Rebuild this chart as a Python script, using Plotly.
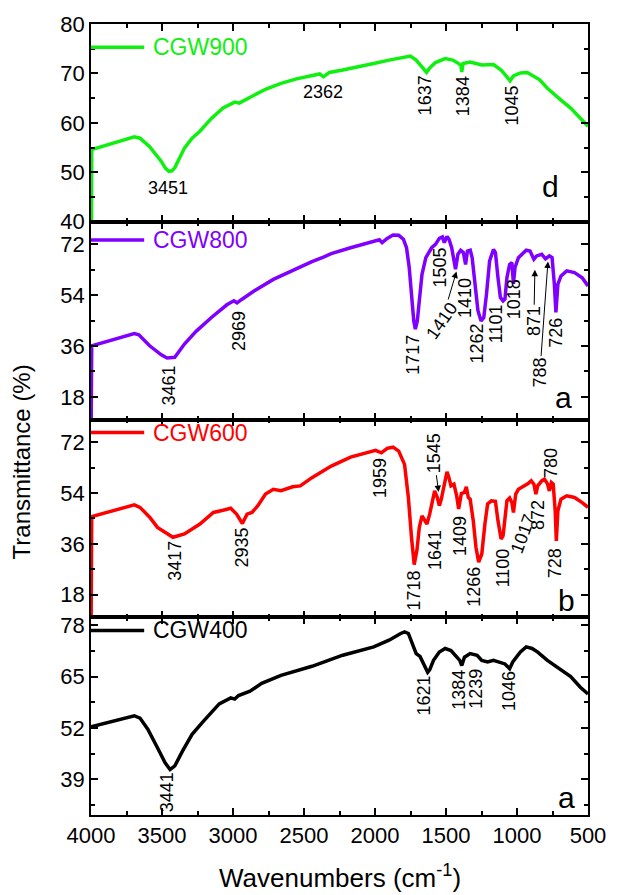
import plotly.graph_objects as go
from plotly.subplots import make_subplots

# ---------------- data ----------------
wn_900 = [4000, 3995, 3695, 3655, 3587, 3505, 3475, 3451, 3430, 3410, 3342, 3288, 3233, 3152, 3070, 2988, 2956, 2920,
          2852, 2771, 2662, 2553, 2444, 2390, 2363, 2322, 2227, 2118, 2009, 1901, 1792, 1751, 1710, 1669,
          1637, 1615, 1574, 1506, 1452, 1411, 1395, 1389, 1380, 1330, 1248, 1166, 1112, 1071, 1049, 1025,
          976, 927, 881, 840, 786, 731, 690, 622, 568, 500]
t_900 = [0, 54.6, 57.2, 56.9, 55.2, 52.2, 50.8, 50.2, 50.3, 50.9, 54.9, 56.9, 58.3, 60.9, 63.0, 64.2, 64.0, 64.6,
         65.6, 66.8, 68.0, 68.9, 69.5, 69.9, 69.3, 70.2, 70.7, 71.3, 72.0, 72.7, 73.4, 73.5, 72.7, 71.3,
         70.2, 71.1, 72.2, 73.0, 72.7, 72.0, 71.6, 70.3, 72.0, 72.3, 71.7, 71.8, 70.7, 69.3, 68.5, 69.5,
         70.1, 70.2, 69.5, 68.7, 67.0, 65.5, 64.6, 63.0, 61.3, 59.3]

wn_800 = [4000, 3995, 3695, 3663, 3587, 3505, 3464, 3410, 3342, 3260, 3152, 3043, 2994, 2972, 2939, 2852,
          2716, 2580, 2444, 2363, 2308, 2172, 2091, 1996, 1969, 1950, 1914, 1873, 1833, 1800, 1778, 1759,
          1743, 1727, 1716, 1702, 1688, 1669, 1642, 1601, 1574, 1547, 1525, 1512, 1493, 1479, 1460, 1444,
          1433, 1416, 1397, 1378, 1362, 1349, 1329, 1316, 1297, 1275, 1253, 1234, 1215, 1193, 1166, 1152,
          1134, 1117, 1098, 1085, 1071, 1052, 1036, 1025, 1014, 990, 935, 908, 881, 862, 826, 799, 772,
          753, 737, 726, 712, 690, 650, 595, 541, 500]
t_800 = [0, 36.1, 40.4, 40.0, 36.1, 32.9, 31.8, 32.0, 36.7, 41.2, 46.1, 50.6, 52.0, 51.3, 52.5, 55.5,
         59.6, 62.8, 65.9, 67.5, 68.7, 70.8, 72.0, 73.4, 73.6, 72.6, 74.1, 75.3, 75.2, 73.8, 70.8, 63.8,
         53.2, 44.9, 42.0, 44.9, 52.0, 61.4, 67.3, 70.8, 72.0, 74.1, 74.6, 72.6, 74.8, 73.8, 70.8, 66.1,
         63.2, 68.5, 69.9, 69.1, 64.9, 69.6, 69.9, 67.3, 57.9, 48.5, 44.9, 46.1, 54.3, 66.1, 70.2, 69.1,
         60.2, 53.2, 52.0, 52.6, 60.2, 64.9, 65.5, 58.0, 63.8, 67.3, 69.9, 69.6, 66.7, 67.9, 68.5, 66.9, 67.9,
         67.3, 57.9, 47.9, 57.9, 60.8, 62.6, 62.0, 60.2, 57.3]

wn_600 = [4000, 3995, 3695, 3655, 3587, 3532, 3423, 3342, 3233, 3138, 3070, 3016, 2975, 2934, 2901, 2866,
          2825, 2771, 2716, 2662, 2580, 2526, 2444, 2308, 2172, 2037, 1996, 1955, 1914, 1873, 1833, 1792,
          1765, 1743, 1724, 1705, 1688, 1669, 1650, 1634, 1615, 1596, 1580, 1561, 1547, 1533, 1514, 1493,
          1479, 1465, 1444, 1425, 1411, 1392, 1370, 1357, 1343, 1330, 1308, 1289, 1270, 1248, 1226, 1207,
          1180, 1152, 1134, 1112, 1098, 1085, 1071, 1052, 1036, 1025, 1009, 990, 949, 922, 900, 881, 867,
          854, 826, 807, 786, 772, 758, 745, 731, 723, 712, 690, 650, 595, 541, 500]
t_600 = [0, 45.6, 49.8, 48.9, 45.4, 41.8, 38.3, 39.5, 43.0, 47.1, 47.9, 48.6, 46.5, 43.2, 46.5, 47.1,
         49.5, 53.6, 55.3, 54.8, 56.2, 56.5, 59.4, 63.5, 66.7, 68.6, 69.1, 68.2, 69.8, 70.2, 68.8, 64.1,
         52.4, 38.3, 28.6, 33.6, 41.8, 45.9, 44.2, 43.0, 46.5, 51.2, 54.7, 52.4, 49.5, 51.8, 57.1, 61.5,
         59.4, 56.5, 57.1, 53.0, 48.3, 53.8, 54.2, 56.2, 52.4, 51.8, 44.2, 34.8, 29.5, 32.4, 43.0, 50.1,
         51.2, 51.0, 44.2, 37.7, 38.9, 45.4, 51.2, 52.2, 50.6, 47.1, 53.6, 55.3, 56.5, 57.3, 58.3, 57.1, 53.6,
         56.5, 58.3, 58.9, 57.3, 54.7, 57.7, 57.1, 47.7, 37.0, 47.7, 51.8, 53.0, 52.4, 50.6, 48.9]

wn_400 = [4000, 3695, 3655, 3600, 3532, 3478, 3443, 3410, 3355, 3288, 3206, 3097, 3016, 2988, 2961, 2880,
          2798, 2662, 2444, 2227, 2009, 1901, 1819, 1792, 1765, 1737, 1710, 1683, 1656, 1629, 1615, 1588,
          1547, 1506, 1465, 1425, 1403, 1389, 1370, 1330, 1281, 1248, 1207, 1166, 1125, 1085, 1052, 1030,
          976, 935, 894, 854, 786, 704, 622, 554, 500]
t_400 = [52.3, 55.1, 54.5, 51.7, 47.0, 43.2, 41.5, 42.4, 46.2, 50.4, 53.8, 58.1, 59.6, 59.3, 60.2, 61.3,
         63.3, 65.3, 67.6, 70.4, 72.5, 74.2, 75.9, 76.3, 75.9, 73.3, 70.8, 70.1, 68.2, 66.1, 66.7, 69.1,
         71.2, 72.1, 71.6, 69.9, 69.1, 67.8, 69.9, 70.8, 70.4, 69.1, 68.7, 69.1, 68.7, 68.2, 67.0, 68.7,
         71.2, 72.5, 72.1, 71.2, 69.1, 67.0, 65.0, 62.3, 60.6]

series_names = ["CGW900", "CGW800", "CGW600", "CGW400"]
panel_letters = ["d", "a", "b", "a"]

# peak labels: text, wavenumber, transmittance at label centre, rotation
lab_900_text = ["3451", "2362", "1637", "1384", "1045"]
lab_900_wn = [3456, 2363, 1650, 1384, 1036]
lab_900_t = [46.8, 66.2, 65.5, 65.5, 63.5]
lab_900_ang = [0, 0, -90, -90, -90]

lab_800_text = ["3461", "2969", "1717", "1505", "1410", "1262", "1101", "1018", "726"]
lab_800_wn = [3451, 2956, 1732, 1545, 1362, 1279, 1142, 1015, 725]
lab_800_t = [22.0, 41.4, 32.9, 63.7, 52.9, 37.0, 44.0, 52.5, 40.7]
lab_800_ang = [-90, -90, -90, -90, -90, -90, -90, -90, -90]

lab_600_text = ["3417", "2935", "1959", "1718", "1641", "1409", "1266", "1100", "1017", "872", "780", "728"]
lab_600_wn = [3410, 2934, 1960, 1724, 1582, 1406, 1305, 1100, 958, 852, 765, 731]
lab_600_t = [29.9, 34.8, 59.2, 19.5, 33.9, 38.9, 20.7, 27.6, 39.5, 46.2, 64.7, 29.2]
lab_600_ang = [-90, -90, -90, -90, -90, -90, -90, -90, -70, -90, -90, -90]

# arrowed labels: text, row, label centre (wn, T), arrow tip (wn, T), rotation
arr_text = ["1410", "871", "788", "1545"]
arr_row = [2, 2, 2, 3]
arr_lab_wn = [1530, 881, 839, 1588]
arr_lab_t = [44.8, 44.8, 26.6, 67.9]
arr_tip_wn = [1426, 874, 782, 1552]
arr_tip_t = [62.4, 63.0, 65.9, 54.3]
arr_ang = [-55, -90, -90, -90]

lab_400_text = ["3441", "1621", "1384", "1239", "1046"]
lab_400_wn = [3464, 1656, 1411, 1289, 1057]
lab_400_t = [35.8, 60.2, 61.6, 61.9, 61.3]
lab_400_ang = [-90, -90, -90, -90, -90]

x_ticks = [4000, 3500, 3000, 2500, 2000, 1500, 1000, 500]

# ---------------- figure ----------------
colors = ["#10F010", "#8000FF", "#FF0000", "#000000"]
font_fam = "Arial, Liberation Sans, sans-serif"

fig = make_subplots(rows=4, cols=1, shared_xaxes=True, vertical_spacing=0)

series = [(wn_900, t_900), (wn_800, t_800), (wn_600, t_600), (wn_400, t_400)]
for i, (xs, ys) in enumerate(series):
    fig.add_trace(go.Scatter(x=xs, y=ys, mode="lines", name=series_names[i],
                             line=dict(color=colors[i], width=3.5), showlegend=False),
                  row=i + 1, col=1)

ax_common = dict(showline=True, linecolor="black", linewidth=1.5, mirror="allticks",
                 ticks="inside", ticklen=7, tickwidth=1.5, tickcolor="black",
                 showgrid=False, zeroline=False,
                 tickfont=dict(family=font_fam, size=22, color="black"))

for r in range(1, 5):
    fig.update_xaxes(range=[4000, 500], tickvals=x_ticks,
                     minor=dict(ticks="inside", ticklen=4, tickwidth=1.5, dtick=250, tick0=0,
                                tickcolor="black", showgrid=False),
                     row=r, col=1, **ax_common)

y_specs = [
    dict(range=[40, 80], dtick=10, tick0=0, minor_d=5),
    dict(range=[10, 80], dtick=18, tick0=0, minor_d=9),
    dict(range=[10, 80], dtick=18, tick0=0, minor_d=9),
    dict(range=[30, 80], dtick=13, tick0=0, minor_d=6.5),
]
for r, s in enumerate(y_specs, start=1):
    fig.update_yaxes(range=s["range"], dtick=s["dtick"], tick0=s["tick0"],
                     minor=dict(ticks="inside", ticklen=4, tickwidth=1.5, dtick=s["minor_d"], tick0=0,
                                tickcolor="black", showgrid=False),
                     row=r, col=1, **ax_common)

annotations = []
lab_sets = [(lab_900_text, lab_900_wn, lab_900_t, lab_900_ang),
            (lab_800_text, lab_800_wn, lab_800_t, lab_800_ang),
            (lab_600_text, lab_600_wn, lab_600_t, lab_600_ang),
            (lab_400_text, lab_400_wn, lab_400_t, lab_400_ang)]
for i, (txts, xs, ys, angs) in enumerate(lab_sets):
    xr = "x" if i == 0 else f"x{i + 1}"
    yr = "y" if i == 0 else f"y{i + 1}"
    for t, xv, yv, a in zip(txts, xs, ys, angs):
        annotations.append(dict(text=t, x=xv, y=yv, xref=xr, yref=yr, showarrow=False,
                                textangle=a, xanchor="center", yanchor="middle",
                                font=dict(family=font_fam, size=18, color="black")))

for t, r, lx, ly, hx, hy, a in zip(arr_text, arr_row, arr_lab_wn, arr_lab_t, arr_tip_wn, arr_tip_t, arr_ang):
    xr = f"x{r}"
    yr = f"y{r}"
    annotations.append(dict(text=t, x=hx, y=hy, ax=lx, ay=ly, xref=xr, yref=yr,
                            axref=xr, ayref=yr, showarrow=True, arrowhead=2, arrowsize=1.3,
                            arrowwidth=1, arrowcolor="black", textangle=a,
                            font=dict(family=font_fam, size=18, color="black")))

legend_y = [0.883, 0.908, 0.934, 0.933]
letter_x = [0.925, 0.951, 0.957, 0.957]
letter_y = [0.177, 0.112, 0.084, 0.09]
shapes = []
for i in range(4):
    xr = "x" if i == 0 else f"x{i + 1}"
    yr = "y" if i == 0 else f"y{i + 1}"
    shapes.append(dict(type="line", xref=f"{xr} domain", yref=f"{yr} domain",
                       x0=0, x1=0.107, y0=legend_y[i], y1=legend_y[i],
                       line=dict(color=colors[i], width=3.5)))
    annotations.append(dict(text=series_names[i], xref=f"{xr} domain", yref=f"{yr} domain",
                            x=0.12, y=legend_y[i], xanchor="left", yanchor="middle", showarrow=False,
                            font=dict(family=font_fam, size=23, color=colors[i])))
    annotations.append(dict(text=panel_letters[i], xref=f"{xr} domain", yref=f"{yr} domain",
                            x=letter_x[i], y=letter_y[i], xanchor="center", yanchor="middle",
                            showarrow=False, font=dict(family=font_fam, size=30, color="black")))

annotations.append(dict(text="Transmittance (%)", xref="paper", yref="paper", x=0, y=0.4457,
                        xanchor="center", yanchor="middle", xshift=-70, textangle=-90, showarrow=False,
                        font=dict(family=font_fam, size=24, color="black")))
annotations.append(dict(text="Wavenumbers (cm<sup>-1</sup>)", xref="paper", yref="paper", x=0.502, y=0,
                        xanchor="center", yanchor="middle", yshift=-61, showarrow=False,
                        font=dict(family=font_fam, size=26, color="black")))

fig.update_layout(width=618, height=895, margin=dict(l=91, r=21, t=23, b=80),
                  paper_bgcolor="white", plot_bgcolor="white",
                  annotations=annotations, shapes=shapes, showlegend=False)

fig.write_html("out.html")
